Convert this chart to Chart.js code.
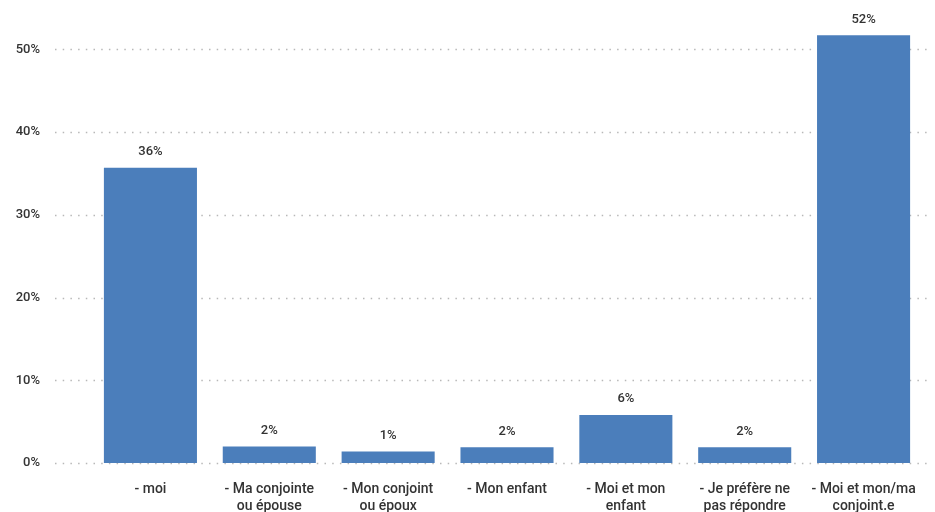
<!DOCTYPE html>
<html>
<head>
<meta charset="utf-8">
<script src="https://cdn.jsdelivr.net/npm/chart.js@4.4.1/dist/chart.umd.min.js"></script>
<style>
  html, body { margin: 0; padding: 0; background: #ffffff; overflow: hidden; }
  #wrap { width: 935px; height: 560px; position: relative; }
</style>
</head>
<body>
<div id="wrap"><canvas id="chart"></canvas></div>
<script>
// Répondants : qui est concerné
const categories = [
  ["- moi"],
  ["- Ma conjointe", "ou épouse"],
  ["- Mon conjoint", "ou époux"],
  ["- Mon enfant"],
  ["- Moi et mon", "enfant"],
  ["- Je préfère ne", "pas répondre"],
  ["- Moi et mon/ma", "conjoint.e"]
];
const shares = [35.7, 2.0, 1.4, 1.9, 5.8, 1.9, 51.7];
const yTicks = [0, 10, 20, 30, 40, 50];

const FONT = "Roboto, 'DejaVu Sans', sans-serif";
const TEXT = "#333333";

// Dotted horizontal guides at each percentage tick
const dottedGrid = {
  id: 'dottedGrid',
  beforeDatasetsDraw(chart) {
    const { ctx, scales: { y } } = chart;
    ctx.save();
    ctx.strokeStyle = '#b8b8b8';
    ctx.lineWidth = 1.5;
    ctx.setLineDash([1.5, 6.2]);
    yTicks.forEach(v => {
      const py = Math.round(y.getPixelForValue(v)) + 0.5;
      ctx.beginPath();
      ctx.moveTo(55, py);
      ctx.lineTo(932, py);
      ctx.stroke();
    });
    ctx.restore();
  }
};

// Value labels above each bar
const barValues = {
  id: 'barValues',
  afterDatasetsDraw(chart) {
    const { ctx } = chart;
    const meta = chart.getDatasetMeta(0);
    ctx.save();
    ctx.font = `500 13px ${FONT}`;
    ctx.fillStyle = TEXT;
    ctx.textAlign = 'center';
    ctx.textBaseline = 'middle';
    meta.data.forEach((bar, i) => {
      ctx.fillText(Math.round(shares[i]) + '%', bar.x, bar.y - 16);
    });
    ctx.restore();
  }
};

new Chart(document.getElementById('chart'), {
  type: 'bar',
  data: {
    labels: categories,
    datasets: [{
      data: shares,
      backgroundColor: '#4b7ebb',
      borderWidth: 0,
      categoryPercentage: 1.0,
      barPercentage: 0.783
    }]
  },
  options: {
    responsive: true,
    maintainAspectRatio: false,
    animation: false,
    layout: { padding: { left: 14, right: 12, top: 8, bottom: 0 } },
    plugins: { legend: { display: false }, tooltip: { enabled: false } },
    scales: {
      x: {
        grid: { display: false, drawTicks: false },
        border: { display: false },
        afterFit(scale) { scale.height = 97; },
        ticks: {
          color: TEXT,
          font: { family: FONT, size: 14, weight: '500', lineHeight: 1.2 },
          padding: 18,
          maxRotation: 0,
          autoSkip: false
        }
      },
      y: {
        min: 0,
        max: 55,
        grid: { display: false, drawTicks: false },
        border: { display: false },
        afterFit(scale) {
          scale.width = 77;
          scale.paddingTop = 0;
          scale.paddingBottom = 0;
        },
        afterBuildTicks(scale) {
          scale.ticks = yTicks.map(v => ({ value: v }));
        },
        ticks: {
          color: TEXT,
          font: { family: FONT, size: 13, weight: '500' },
          padding: 51,
          callback: v => v + '%'
        }
      }
    }
  },
  plugins: [dottedGrid, barValues]
});
</script>
</body>
</html>
